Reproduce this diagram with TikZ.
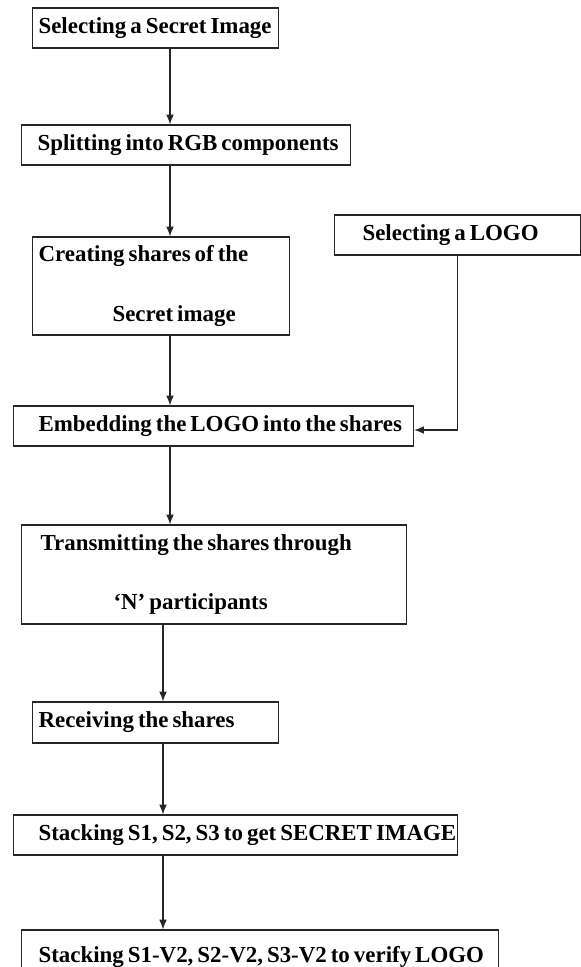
\documentclass[tikz,border=0pt]{standalone}
\usepackage{fontspec}
\setmainfont{Liberation Serif}[WordSpace=0.7]
\usetikzlibrary{arrows.meta}

\begin{document}
\begin{tikzpicture}[
  stepbox/.style={draw=black!85, line width=.8pt, anchor=west, align=flush left, inner xsep=0pt, inner ysep=0pt,
    minimum height=1cm, font=\bfseries\fontsize{16.3}{19.4}\selectfont},
  flow/.style={draw=black!85, line width=.8pt, ->, >={Latex[length=7pt,width=5.5pt]}}]
\useasboundingbox (0,0) rectangle (14.525,-24.175);
\node[stepbox, text width=6.15cm] (sel) at (0.8,-0.7) {\hspace*{.15cm}Selecting a Secret Image};
\node[stepbox, text width=8.225cm] (rgb) at (0.525,-3.625) {\hspace*{.4cm}Splitting into RGB components};
\node[stepbox, text width=6.425cm, minimum height=2.45cm] (shr) at (0.8,-7.15) {\hspace*{.15cm}Creating shares of the\\[.8cm]\hspace*{2cm}Secret image};
\node[stepbox, text width=6.15cm] (logo) at (8.35,-5.875) {\hspace*{.7cm}Selecting a LOGO};
\node[stepbox, text width=10cm] (emb) at (0.325,-10.65) {\hspace*{.625cm}Embedding the LOGO into the shares};
\node[stepbox, text width=9.625cm, minimum height=2.475cm] (trn) at (0.525,-14.3625) {\hspace*{.475cm}Transmitting the shares through\\[.8cm]\hspace*{2.3cm}`N' participants};
\node[stepbox, text width=6.15cm, minimum height=1.025cm] (rcv) at (0.8,-18.0625) {\hspace*{.15cm}Receiving the shares};
\node[stepbox, text width=11.1cm] (stk) at (0.325,-20.875) {\hspace*{.625cm}Stacking S1, S2, S3 to get SECRET IMAGE};
\node[stepbox, text width=11.925cm, minimum height=1.35cm] (ver) at (0.525,-23.925) {\hspace*{.425cm}Stacking S1-V2, S2-V2, S3-V2 to verify LOGO};
% arrow columns
\coordinate (ax) at (4.25,0);
\coordinate (bx) at (4.075,0);
\draw[flow] (sel.south -| ax) -- (rgb.north -| ax);
\draw[flow] (rgb.south -| ax) -- (shr.north -| ax);
\draw[flow] (shr.south -| ax) -- (emb.north -| ax);
\draw[flow] (emb.south -| ax) -- (trn.north -| ax);
\draw[flow] (trn.south -| bx) -- (rcv.north -| bx);
\draw[flow] (rcv.south -| bx) -- (stk.north -| bx);
\draw[flow] (stk.south -| bx) -- (ver.north -| bx);
\draw[flow] (logo.south) |- ([yshift=-.1cm]emb.east);
\end{tikzpicture}
\end{document}
